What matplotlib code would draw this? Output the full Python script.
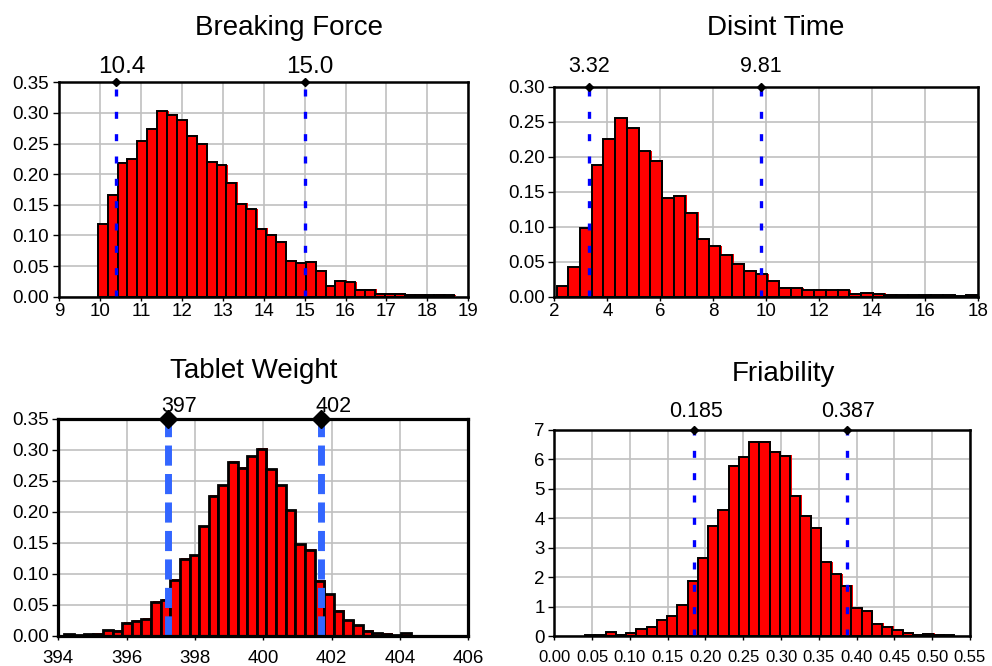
import numpy as np
import matplotlib
matplotlib.use('Agg')
import matplotlib.pyplot as plt
from matplotlib.transforms import offset_copy, blended_transform_factory
from matplotlib.ticker import FormatStrFormatter

plt.rcParams['font.family'] = ['Liberation Sans', 'DejaVu Sans']

# ── Histogram data ───────────────────────────────────────────────────────────
bf_start, bf_width = 9.945, 0.242
bf_heights = [0.118, 0.166, 0.219, 0.224, 0.254, 0.274, 0.303, 0.297, 0.288,
              0.263, 0.249, 0.220, 0.215, 0.186, 0.152, 0.143, 0.111, 0.101,
              0.090, 0.059, 0.055, 0.057, 0.042, 0.017, 0.026, 0.024, 0.011,
              0.011, 0.005, 0.005, 0.005, 0.003, 0.003, 0.002, 0.003, 0.002]
bf_limits = [10.4, 15.0]
bf_labels = ['10.4', '15.0']

dt_start, dt_width = 2.088, 0.4416
dt_heights = [0.015, 0.042, 0.098, 0.188, 0.226, 0.255, 0.241, 0.208, 0.194,
              0.141, 0.144, 0.120, 0.082, 0.072, 0.060, 0.047, 0.037, 0.032,
              0.023, 0.013, 0.012, 0.009, 0.010, 0.009, 0.009, 0.004, 0.006,
              0.004, 0.003, 0.002, 0.002, 0.002, 0.002, 0.002, 0.001, 0.002]
dt_limits = [3.32, 9.81]
dt_labels = ['3.32', '9.81']

tw_start, tw_width = 394.18, 0.2815
tw_heights = [0.002, 0.001, 0.002, 0.003, 0.009, 0.008, 0.021, 0.024, 0.027,
              0.055, 0.058, 0.090, 0.124, 0.130, 0.177, 0.226, 0.243, 0.281,
              0.271, 0.290, 0.302, 0.269, 0.243, 0.203, 0.148, 0.139, 0.089,
              0.067, 0.040, 0.025, 0.017, 0.008, 0.004, 0.003, 0.001, 0.004]
tw_limits = [397.2, 401.7]
tw_labels = ['397', '402']

fr_start, fr_width = 0.0409, 0.01355
fr_heights = [0.02, 0.02, 0.13, 0.04, 0.10, 0.23, 0.31, 0.53, 0.67, 1.05,
              1.86, 2.66, 3.74, 4.27, 5.78, 6.08, 6.60, 6.60, 6.26, 6.12,
              4.76, 4.08, 3.68, 2.50, 2.10, 1.70, 0.95, 0.84, 0.42, 0.31,
              0.19, 0.11, 0.05, 0.08, 0.04, 0.02]
fr_limits = [0.185, 0.387]
fr_labels = ['0.185', '0.387']

fig = plt.figure(figsize=(9.92, 6.66), dpi=100, facecolor='white')


def panel(rect, title, title_xy, start, width, heights, limits, labels,
          xlim, xticks, xfmt, ylim, yticks, yfmt, style):
    ax = fig.add_axes(rect)
    lefts = start + width * np.arange(len(heights))

    # red "shadow" slightly to the right, then the outlined bars on top
    shadow = ax.bar(lefts, heights, width, align='edge', color='#ff0000',
                    linewidth=0, zorder=2)
    tr = offset_copy(ax.transData, fig=fig, x=1.5, y=0.5, units='dots')
    for p in shadow:
        p.set_transform(tr)
    ax.bar(lefts, heights, width, align='edge', color='#ff0000',
           edgecolor='black', linewidth=style['bar_lw'], zorder=3)

    ax.set_xlim(*xlim)
    ax.set_ylim(*ylim)
    ax.set_xticks(xticks)
    ax.set_yticks(yticks)
    ax.xaxis.set_major_formatter(FormatStrFormatter(xfmt))
    ax.yaxis.set_major_formatter(FormatStrFormatter(yfmt))
    ax.grid(True, color='#c0c0c0', linewidth=1.2, zorder=0)
    ax.set_axisbelow(True)
    for sp in ax.spines.values():
        sp.set_linewidth(style['spine_lw'])
        sp.set_color('black')
        sp.set_zorder(5)
    ax.tick_params(axis='y', direction='out', length=4, width=1,
                   labelsize=13.5, pad=3)
    ax.tick_params(axis='x', direction='out', length=3, width=1,
                   labelsize=style['xlab_size'], pad=style['xpad'])

    # spec-limit lines with marker + label above the frame
    blend = blended_transform_factory(ax.transData, ax.transAxes)
    for xv, lab in zip(limits, labels):
        ax.plot([xv, xv], [ylim[0], ylim[1]], color=style['line_color'],
                linewidth=style['line_lw'], dashes=style['dashes'],
                solid_capstyle='butt', zorder=4)
        ax.plot([xv], [ylim[1]], marker='D', color='black',
                markersize=style['marker_size'], clip_on=False, zorder=6)
        ax.annotate(lab, xy=(xv, 1), xycoords=blend,
                    xytext=(style['label_dx'], style['label_dy']),
                    textcoords='offset points', ha=style['label_ha'],
                    va='baseline', fontsize=style['label_size'])

    fig.text(title_xy[0], title_xy[1], title, ha='center', va='baseline',
             fontsize=20)
    return ax


thin = dict(bar_lw=1.4, spine_lw=1.8, line_color='#0000ff', line_lw=2.4,
            dashes=(2.1, 4.6), marker_size=4, label_ha='center',
            label_dx=0, label_dy=10, label_size=15.5, xlab_size=13.5,
            xpad=1.5)

panel([0.0595, 0.5545, 0.4126, 0.3219], 'Breaking Force', (0.2913, 0.9474),
      bf_start, bf_width, bf_heights, bf_limits, bf_labels,
      (9, 19), np.arange(9, 20, 1), '%d', (0, 0.35),
      np.arange(0, 0.351, 0.05), '%.2f',
      dict(thin, label_dx=3.6, label_dy=7, label_size=17.5))

panel([0.5588, 0.5545, 0.4274, 0.3153], 'Disint Time', (0.7823, 0.9474),
      dt_start, dt_width, dt_heights, dt_limits, dt_labels,
      (2, 18), np.arange(2, 19, 2), '%d', (0, 0.30),
      np.arange(0, 0.301, 0.05), '%.2f',
      dict(thin, label_dy=10.5))

panel([0.0588, 0.0455, 0.4133, 0.3254], 'Tablet Weight', (0.256, 0.4324),
      tw_start, tw_width, tw_heights, tw_limits, tw_labels,
      (394, 406), np.arange(394, 407, 2), '%d', (0, 0.35),
      np.arange(0, 0.351, 0.05), '%.2f',
      dict(thin, bar_lw=2.0, spine_lw=2.3, line_color='#3366ff', line_lw=5,
           dashes=(2.9, 1.2), marker_size=9, label_ha='left', label_dx=-4.3,
           label_dy=5, label_size=15.5, xpad=7))

panel([0.5588, 0.045, 0.419, 0.3094], 'Friability', (0.790, 0.428),
      fr_start, fr_width, fr_heights, fr_limits, fr_labels,
      (0, 0.55), np.arange(0, 0.551, 0.05), '%.2f', (0, 7),
      np.arange(0, 8, 1), '%d',
      dict(thin, label_dx=1, label_dy=9, xlab_size=12, xpad=7))

fig.savefig('out.png', dpi=100, facecolor='white')
